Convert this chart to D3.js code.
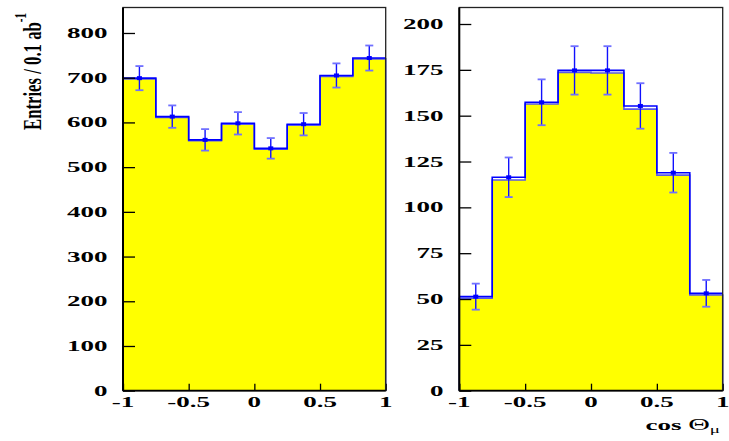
<!DOCTYPE html>
<html>
<head>
<meta charset="utf-8">
<script src="https://cdn.jsdelivr.net/npm/d3@7"></script>
<style>
  body { margin: 0; background: #fff; }
  text { font-family: "Liberation Serif", "DejaVu Serif", serif; font-weight: bold; }
</style>
</head>
<body>
<div id="chart"></div>
<script>
// bin edges in cos(theta)
const binEdges = [-1, -0.75, -0.5, -0.25, 0, 0.25, 0.5, 0.75, 1];
const xTickValues = [-1, -0.5, 0, 0.5, 1];

// left panel
const leftData = [699, 613, 561, 598, 542, 596, 705, 744];
const leftErr  = [27, 25, 24, 25, 23, 25, 27, 28];
const leftMC   = [697, 611, 559, 596, 540, 594, 703, 742];
const leftTicks = [0, 100, 200, 300, 400, 500, 600, 700, 800];

// right panel
const rightData = [51.3, 116.4, 157.3, 174.7, 174.7, 155.3, 118.9, 53.1];
const rightErr  = [7.1, 10.8, 12.5, 13.2, 13.2, 12.4, 10.8, 7.3];
const rightMC   = [50.4, 114.9, 156.4, 173.6, 173.3, 153.6, 117.6, 52.2];
const rightTicks = [0, 25, 50, 75, 100, 125, 150, 175, 200];

const W = 729, H = 441;
const TOP = 7.5, BOTTOM = 390.7;
const SQ = 0.55; // vertical squash of all lettering

const svg = d3.select("#chart").append("svg")
  .attr("width", W).attr("height", H);
svg.append("rect").attr("width", W).attr("height", H).attr("fill", "#fff");

function squashed(g, x, y, txt, anchor, size) {
  return g.append("text")
    .attr("transform", "translate(" + x + "," + y + ") scale(1," + SQ + ")")
    .attr("text-anchor", anchor)
    .attr("font-size", size || 27)
    .attr("fill", "#000")
    .text(txt);
}

function drawPanel(cfg) {
  const x = d3.scaleLinear().domain([-1, 1]).range([cfg.x0, cfg.x1]);
  const y = d3.scaleLinear().domain([0, cfg.yMax]).range([BOTTOM, TOP]);
  const g = svg.append("g");

  // histogram as steps
  const mcPts = [[binEdges[0], 0]];
  const dataPts = [];
  cfg.mc.forEach(function (v, i) {
    mcPts.push([binEdges[i], v], [binEdges[i + 1], v]);
  });
  mcPts.push([binEdges[binEdges.length - 1], 0]);
  cfg.data.forEach(function (v, i) {
    dataPts.push([binEdges[i], v], [binEdges[i + 1], v]);
  });
  const line = d3.line().x(function (d) { return x(d[0]); }).y(function (d) { return y(d[1]); });

  g.append("path").attr("d", line(mcPts) + "Z")
    .attr("fill", "#ffff00").attr("stroke", "none");
  g.append("path").attr("d", line(mcPts))
    .attr("fill", "none").attr("stroke", "#5a5ae6").attr("stroke-width", 1.6);
  g.append("path").attr("d", line(dataPts))
    .attr("fill", "none").attr("stroke", "#0000ff").attr("stroke-width", 1.6);

  // error bars
  const centers = cfg.data.map(function (v, i) { return (binEdges[i] + binEdges[i + 1]) / 2; });
  const eb = g.append("g");
  cfg.data.forEach(function (v, i) {
    const cx = x(centers[i]);
    eb.append("line")
      .attr("x1", cx).attr("x2", cx)
      .attr("y1", y(v - cfg.err[i])).attr("y2", y(v + cfg.err[i]))
      .attr("stroke", "#1010ff").attr("stroke-width", 1.4);
    [v - cfg.err[i], v + cfg.err[i]].forEach(function (e) {
      eb.append("line")
        .attr("x1", cx - 4).attr("x2", cx + 4)
        .attr("y1", y(e)).attr("y2", y(e))
        .attr("stroke", "#7070ff").attr("stroke-width", 1.8);
    });
    eb.append("rect")
      .attr("x", cx - 2.5).attr("y", y(v) - 2)
      .attr("width", 5).attr("height", 4)
      .attr("fill", "#0000ff");
  });

  // axes, ticks pointing inwards
  const yAx = g.append("g").attr("transform", "translate(" + cfg.x0 + ",0)");
  yAx.call(d3.axisRight(y).tickValues(d3.range(0, cfg.yMax, cfg.minor)).tickSize(6).tickFormat(""));
  yAx.call(d3.axisRight(y).tickValues(cfg.ticks).tickSize(12).tickFormat(""));
  yAx.selectAll(".domain").remove();
  yAx.selectAll("line").attr("stroke", "#000").attr("stroke-width", 1.3);

  const xAx = g.append("g").attr("transform", "translate(0," + BOTTOM + ")");
  xAx.call(d3.axisTop(x).tickValues(d3.range(-1, 1.001, 0.1)).tickSize(3.5).tickFormat(""));
  xAx.call(d3.axisTop(x).tickValues(xTickValues).tickSize(7).tickFormat(""));
  xAx.selectAll(".domain").remove();
  xAx.selectAll("line").attr("stroke", "#000").attr("stroke-width", 1.3);

  // frame
  g.append("rect")
    .attr("x", cfg.x0).attr("y", TOP)
    .attr("width", cfg.x1 - cfg.x0).attr("height", BOTTOM - TOP)
    .attr("fill", "none").attr("stroke", "#222").attr("stroke-width", 1.3);
  g.append("line")
    .attr("x1", cfg.x0).attr("x2", cfg.x0).attr("y1", TOP).attr("y2", BOTTOM)
    .attr("stroke", "#000").attr("stroke-width", 2);
  g.append("line")
    .attr("x1", cfg.x0).attr("x2", cfg.x1).attr("y1", BOTTOM).attr("y2", BOTTOM)
    .attr("stroke", "#000").attr("stroke-width", 1.8);

  // tick labels
  cfg.ticks.forEach(function (t) {
    squashed(g, cfg.labelX, y(t) + 5, String(t), "end");
  });
  xTickValues.forEach(function (t) {
    squashed(g, x(t), 407.3, String(t), "middle");
  });
}

drawPanel({x0: 123, x1: 385.7, yMax: 857, minor: 20, ticks: leftTicks,
  data: leftData, err: leftErr, mc: leftMC, labelX: 107.5});
drawPanel({x0: 459.3, x1: 722.7, yMax: 209, minor: 5, ticks: rightTicks,
  data: rightData, err: rightErr, mc: rightMC, labelX: 443.5});

// y title, squeezed along its length
const yTitle = svg.append("text")
  .attr("text-anchor", "start")
  .attr("font-size", 26)
  .attr("fill", "#000");
yTitle.append("tspan").text("Entries / 0.1 ab");
yTitle.append("tspan").attr("font-size", 17).attr("dy", -15).text("-1");
const len = yTitle.node().getBBox().width;
yTitle.attr("transform", "translate(40.5,130) rotate(-90) scale(" + (117 / len) + ",1)");

// x title
const xTitle = svg.append("text")
  .attr("transform", "translate(720,430) scale(1," + SQ + ")")
  .attr("text-anchor", "end")
  .attr("font-size", 27)
  .attr("fill", "#000");
xTitle.append("tspan").text("cos ");
xTitle.append("tspan").attr("font-size", 30).attr("font-weight", "normal").text("Θ");
xTitle.append("tspan").attr("font-size", 19).attr("font-weight", "normal").attr("dy", 6).text("μ");
</script>
</body>
</html>
